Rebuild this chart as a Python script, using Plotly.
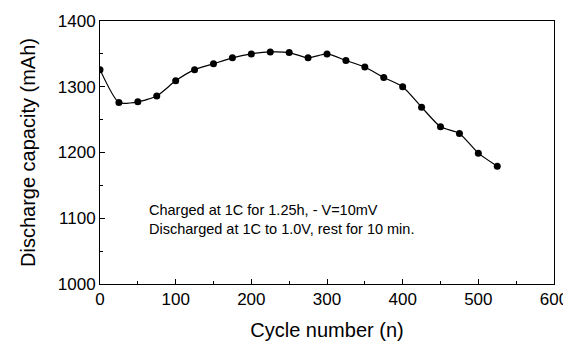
import plotly.graph_objects as go

cycles = [0, 25, 50, 75, 100, 125, 150, 175, 200, 225, 250, 275, 300, 325, 350, 375, 400, 425, 450, 475, 500, 525]
capacity = [1326, 1276, 1277, 1286, 1309, 1326, 1335, 1344, 1350, 1353, 1352, 1344, 1350, 1340, 1330, 1314, 1300, 1269, 1239, 1229, 1199, 1179]

x_ticks = [0, 100, 200, 300, 400, 500, 600]
y_ticks = [1000, 1100, 1200, 1300, 1400]
note_lines = ["Charged at 1C for 1.25h, - V=10mV", "Discharged at 1C to 1.0V, rest for 10 min."]

FONT = "Liberation Sans, Arial, sans-serif"

fig = go.Figure()
fig.add_trace(go.Scatter(
    x=cycles, y=capacity, mode="lines+markers",
    line=dict(color="black", width=1.2, shape="spline", smoothing=0.6),
    marker=dict(color="black", size=7),
    showlegend=False,
))

fig.add_annotation(
    x=0.104, y=0.247, xref="paper", yref="paper", xanchor="left", yanchor="middle",
    text="<br>".join(note_lines), showarrow=False, align="left",
    font=dict(family=FONT, size=14.5, color="black"),
)

axis_common = dict(
    showline=True, linecolor="black", linewidth=1, mirror=True,
    ticks="inside", ticklen=5, tickcolor="black", showgrid=False, zeroline=False,
    tickfont=dict(family=FONT, size=17, color="black"), automargin=False,
)

fig.update_xaxes(
    range=[0, 600], tickvals=x_ticks,
    minor=dict(ticks="inside", dtick=50, ticklen=3, tickcolor="black", showgrid=False),
    title=dict(text="Cycle number (n)", font=dict(family=FONT, size=20, color="black"), standoff=22),
    **axis_common,
)
fig.update_yaxes(
    range=[1000, 1400], tickvals=y_ticks,
    minor=dict(ticks="inside", dtick=50, ticklen=3, tickcolor="black", showgrid=False),
    title=dict(text="Discharge capacity (mAh)", font=dict(family=FONT, size=20, color="black"), standoff=16),
    **axis_common,
)

# page body adds an 8px offset; compensate so the plot area sits where the reference has it
fig.update_layout(
    width=563, height=333,
    margin=dict(l=92, r=17, t=13, b=57),
    paper_bgcolor="white", plot_bgcolor="white",
)

fig.write_html("out.html")
